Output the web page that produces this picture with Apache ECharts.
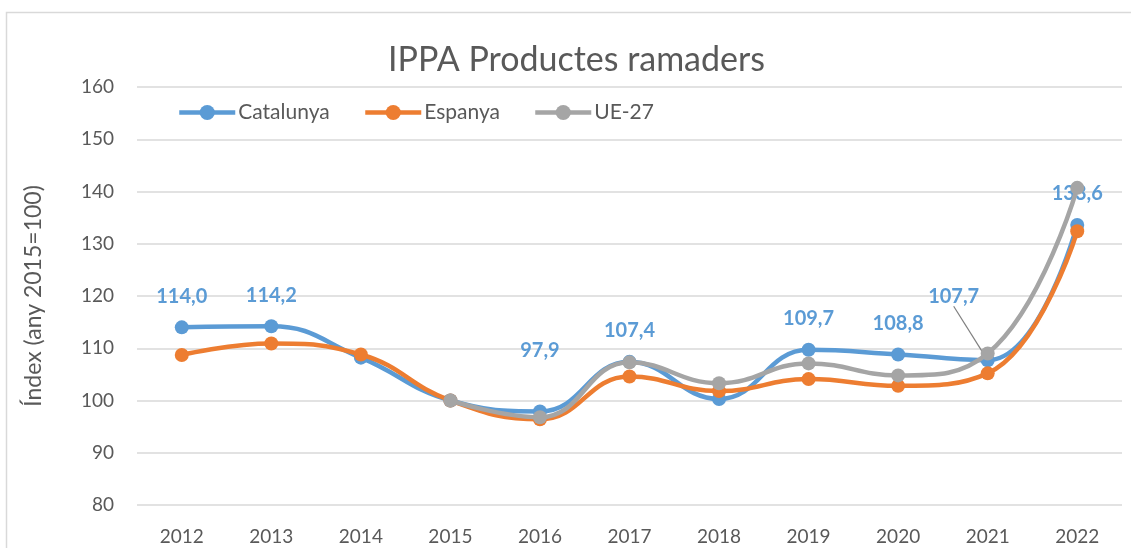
<!DOCTYPE html>
<html>
<head>
<meta charset="utf-8">
<script src="https://cdn.jsdelivr.net/npm/echarts@6/dist/echarts.min.js"></script>
<style>
	html, body { margin: 0; padding: 0; background: #fff; }
	#chart { width: 1131px; height: 548px; }
</style>
</head>
<body>
<div id="chart"></div>
<script>
// dades
var anys = ['2012', '2013', '2014', '2015', '2016', '2017', '2018', '2019', '2020', '2021', '2022'];
var series_noms = ['Catalunya', 'Espanya', 'UE-27'];
var catalunya = [114.0, 114.2, 108.2, 100.0, 97.9, 107.4, 100.3, 109.7, 108.8, 107.7, 133.6];
var espanya = [108.7, 110.9, 108.8, 100.0, 96.4, 104.6, 101.8, 104.1, 102.8, 105.2, 132.4];
var ue27 = [null, null, null, 100.0, 96.8, 107.3, 103.3, 107.1, 104.8, 109.0, 140.7];
// etiquetes visibles de Catalunya
var etiquetesCat = [true, true, false, false, true, true, false, true, true, true, true];

var gris = '#595959';
var fontFam = 'Lato, "Open Sans", sans-serif';
var colors = ['#5B9BD5', '#ED7D31', '#A5A5A5'];

var catData = catalunya.map(function (v, i) {
	var item = { value: v };
	if (etiquetesCat[i]) {
		item.label = { show: true };
		if (i === 4) item.label.distance = 44;
		if (i === 9) item.labelLine = { show: true };
	}
	return item;
});

//llegenda: un bloc per serie
var legendLeft = [177, 363, 533];
var legends = series_noms.map(function (nom, i) {
	return {
		left: legendLeft[i],
		top: 102,
		padding: 0,
		itemWidth: 56,
		itemHeight: 19,
		lineStyle: { width: 4.5 },
		textStyle: { fontSize: 21, color: gris, padding: [0, 0, 0, -2] },
		data: [nom]
	};
});

function serie(nom, dades, i) {
	return {
		name: nom,
		type: 'line',
		smooth: 0.45,
		data: dades,
		symbol: 'circle',
		symbolSize: 14,
		color: colors[i],
		lineStyle: { width: 4.5 },
		z: 2 + i
	};
}

var catSerie = serie(series_noms[0], catData, 0);
catSerie.label = {
	show: false,
	position: 'top',
	distance: 14,
	fontSize: 20,
	fontWeight: 'bold',
	color: colors[0],
	formatter: function (p) { return p.value.toFixed(1).replace('.', ','); }
};
catSerie.labelLine = { show: false, lineStyle: { color: '#7F7F7F', width: 1.2 } };
catSerie.labelLayout = function (p) {
	if (p.dataIndex === 9) return { dx: -34, dy: -33 };
	return {};
};

var chart = echarts.init(document.getElementById('chart'));
var option = {
	backgroundColor: '#fff',
	animation: false,
	textStyle: { fontFamily: fontFam },
	title: {
		text: 'IPPA Productes ramaders',
		left: 383,
		top: 38,
		textStyle: { fontSize: 34, fontWeight: 'normal', color: gris, fontFamily: fontFam }
	},
	legend: legends,
	graphic: [{
		type: 'rect',
		shape: { x: 6.5, y: 12.5, width: 1140, height: 560 },
		style: { fill: null, stroke: '#D9D9D9', lineWidth: 1.5 },
		silent: true
	}],
	grid: { left: 137, right: 9, top: 87, bottom: 43 },
	xAxis: {
		type: 'category',
		data: anys,
		boundaryGap: true,
		axisLine: { show: false },
		axisTick: { show: false },
		axisLabel: { fontSize: 19, color: gris, margin: 22 }
	},
	yAxis: {
		type: 'value',
		min: 80,
		max: 160,
		interval: 10,
		name: 'Índex (any 2015=100)',
		nameLocation: 'middle',
		nameGap: 92,
		nameTextStyle: { fontSize: 23, color: gris },
		axisLine: { show: false },
		axisTick: { show: false },
		axisLabel: { fontSize: 19, color: gris, margin: 23 },
		splitLine: { lineStyle: { color: '#D9D9D9', width: 1.5 } }
	},
	series: [
		catSerie,
		serie(series_noms[1], espanya, 1),
		serie(series_noms[2], ue27, 2)
	]
};
chart.setOption(option);
window.addEventListener('resize', chart.resize);
</script>
</body>
</html>
